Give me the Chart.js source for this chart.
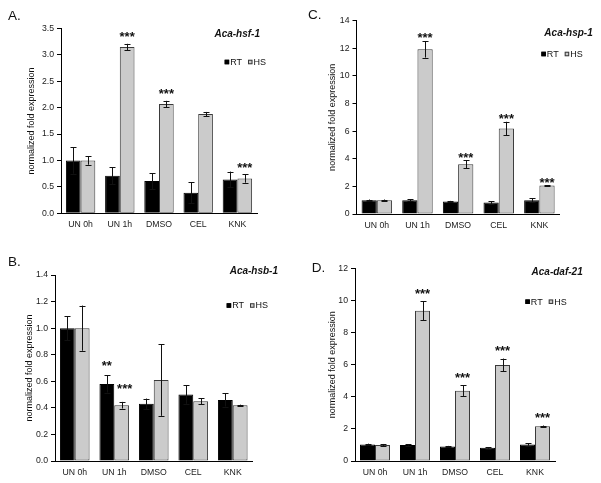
<!DOCTYPE html>
<html>
<head>
<meta charset="utf-8">
<script src="https://cdn.jsdelivr.net/npm/chart.js@4/dist/chart.umd.min.js"></script>
<style>
  html, body { margin: 0; padding: 0; background: #fff; }
  #wrap { position: relative; width: 601px; height: 483px; background: #fff; overflow: hidden; }
  canvas { position: absolute; }
</style>
</head>
<body>
<div id="wrap">
  <canvas id="pA" width="300" height="240" style="left:0px;top:0px"></canvas>
  <canvas id="pC" width="301" height="240" style="left:300px;top:0px"></canvas>
  <canvas id="pB" width="300" height="243" style="left:0px;top:240px"></canvas>
  <canvas id="pD" width="301" height="243" style="left:300px;top:240px"></canvas>
</div>
<script>
// ---- data ----
const categories = ['UN 0h', 'UN 1h', 'DMSO', 'CEL', 'KNK'];
const seriesNames = ['RT', 'HS'];
const yAxisTitle = 'normalized fold expression';

// A. Aca-hsf-1
const hsf1RT     = [1.00, 0.71, 0.61, 0.39, 0.64];
const hsf1RTErr  = [0.25, 0.16, 0.15, 0.20, 0.15];
const hsf1HS     = [1.00, 3.15, 2.07, 1.88, 0.66];
const hsf1HSErr  = [0.08, 0.06, 0.06, 0.04, 0.08];
const hsf1RTStars = ['', '', '', '', ''];
const hsf1HSStars = ['', '***', '***', '', '***'];
const hsf1Ticks = ['0.0', '0.5', '1.0', '1.5', '2.0', '2.5', '3.0', '3.5'];

// B. Aca-hsb-1
const hsb1RT     = [1.00, 0.58, 0.43, 0.50, 0.46];
const hsb1RTErr  = [0.09, 0.065, 0.04, 0.07, 0.05];
const hsb1HS     = [1.00, 0.42, 0.61, 0.45, 0.42];
const hsb1HSErr  = [0.17, 0.025, 0.27, 0.022, 0.004];
const hsb1RTStars = ['', '**', '', '', ''];
const hsb1HSStars = ['', '***', '', '', ''];
const hsb1Ticks = ['0.0', '0.2', '0.4', '0.6', '0.8', '1.0', '1.2', '1.4'];

// C. Aca-hsp-1
const hsp1RT     = [1.00, 1.00, 0.90, 0.83, 1.00];
const hsp1RTErr  = [0.05, 0.06, 0.05, 0.10, 0.13];
const hsp1HS     = [0.99, 11.93, 3.60, 6.20, 2.06];
const hsp1HSErr  = [0.06, 0.60, 0.29, 0.48, 0.04];
const hsp1RTStars = ['', '', '', '', ''];
const hsp1HSStars = ['', '***', '***', '***', '***'];
const hsp1Ticks = ['0', '2', '4', '6', '8', '10', '12', '14'];

// D. Aca-daf-21
const daf21RT     = [1.03, 1.00, 0.90, 0.82, 1.02];
const daf21RTErr  = [0.05, 0.05, 0.04, 0.05, 0.07];
const daf21HS     = [1.00, 9.35, 4.38, 5.98, 2.17];
const daf21HSErr  = [0.06, 0.60, 0.33, 0.40, 0.04];
const daf21RTStars = ['', '', '', '', ''];
const daf21HSStars = ['', '***', '***', '***', '***'];
const daf21Ticks = ['0', '2', '4', '6', '8', '10', '12'];

// ---- rendering ----
const FONT = "'Liberation Sans', Arial, Helvetica, sans-serif";
Chart.defaults.font.family = FONT;
const RT_COLOR = '#000000';
const HS_COLOR = '#cbcbcb';
const HS_BORDER = '#3a3a3a';

const panelPlugin = {
  id: 'panelExtras',
  afterDatasetsDraw(chart) {
    const p = chart.options.plugins.panelExtras;
    const ctx = chart.ctx;
    const ys = chart.scales.y;
    ctx.save();
    // error bars
    chart.data.datasets.forEach((ds, di) => {
      const meta = chart.getDatasetMeta(di);
      meta.data.forEach((el, i) => {
        const v = ds.data[i], e = ds.errors[i];
        const yTop = ys.getPixelForValue(v + e);
        const yBot = ys.getPixelForValue(v - e);
        const x = Math.round(el.x) + 0.5;
        ctx.strokeStyle = '#111';
        ctx.lineWidth = 1;
        ctx.beginPath();
        ctx.moveTo(x, yTop); ctx.lineTo(x, yBot);
        ctx.moveTo(x - 3, Math.round(yTop) + 0.5); ctx.lineTo(x + 3, Math.round(yTop) + 0.5);
        ctx.moveTo(x - 3, Math.round(yBot) + 0.5); ctx.lineTo(x + 3, Math.round(yBot) + 0.5);
        ctx.stroke();
      });
    });
    // significance stars
    ctx.fillStyle = '#111';
    ctx.font = 'bold 13px ' + FONT;
    ctx.textAlign = 'center';
    ctx.textBaseline = 'alphabetic';
    chart.data.datasets.forEach((ds, di) => {
      const meta = chart.getDatasetMeta(di);
      meta.data.forEach((el, i) => {
        const s = ds.stars[i];
        if (!s) return;
        const yTop = ys.getPixelForValue(ds.data[i] + ds.errors[i]);
        const gap = Array.isArray(p.starGap) ? p.starGap[di] : p.starGap;
        const dx = p.starDx ? p.starDx[di] : 0;
        ctx.fillText(s, el.x + dx, yTop - gap + 7.5);
      });
    });
    ctx.restore();
  },
  afterDraw(chart) {
    const p = chart.options.plugins.panelExtras;
    const ctx = chart.ctx;
    ctx.save();
    // panel letter
    ctx.fillStyle = '#111';
    ctx.font = '13.5px ' + FONT;
    ctx.textAlign = 'left';
    ctx.textBaseline = 'middle';
    ctx.fillText(p.letter, p.letterX, p.letterY);
    // gene title
    ctx.font = 'italic bold 10px ' + FONT;
    ctx.textAlign = 'right';
    ctx.fillText(p.title, p.titleX, p.titleY);
    // legend (right aligned)
    ctx.font = '9px ' + FONT;
    const ds = chart.data.datasets;
    const sq = 4.5, gapT = 1, gapI = 6;
    let x = p.legendX;
    const y = p.legendY;
    const items = [];
    for (let i = ds.length - 1; i >= 0; i--) {
      const w = ctx.measureText(ds[i].label).width;
      x -= w;
      const tx = x;
      x -= gapT + sq;
      items.push({tx, sx: x, d: ds[i]});
      x -= gapI;
    }
    items.forEach(it => {
      ctx.fillStyle = it.d.backgroundColor;
      ctx.fillRect(it.sx, y - sq / 2, sq, sq);
      ctx.strokeStyle = it.d.borderColor;
      ctx.lineWidth = 1;
      ctx.strokeRect(it.sx + 0.5, y - sq / 2 + 0.5, sq - 1, sq - 1);
      ctx.fillStyle = '#111';
      ctx.textAlign = 'left';
      ctx.fillText(it.d.label, it.tx, y + 0.5);
    });
    ctx.restore();
  }
};

function makePanel(id, rt, rtErr, hs, hsErr, rtStars, hsStars, tickLabels, step, geo) {
  const decimals = (tickLabels[1].split('.')[1] || '').length;
  return new Chart(document.getElementById(id), {
    type: 'bar',
    data: {
      labels: categories,
      datasets: [
        { label: seriesNames[0], data: rt, errors: rtErr, stars: rtStars,
          backgroundColor: RT_COLOR, borderColor: RT_COLOR, borderWidth: 1,
          categoryPercentage: 0.75, barPercentage: 1 },
        { label: seriesNames[1], data: hs, errors: hsErr, stars: hsStars,
          backgroundColor: HS_COLOR, borderColor: HS_BORDER, borderWidth: 1,
          borderSkipped: false,
          categoryPercentage: 0.75, barPercentage: 1 }
      ]
    },
    options: {
      responsive: false,
      animation: false,
      devicePixelRatio: 1,
      layout: { padding: { left: geo.left, right: geo.right, top: geo.top, bottom: 0 } },
      plugins: {
        legend: { display: false },
        tooltip: { enabled: false },
        panelExtras: geo.extras
      },
      scales: {
        x: {
          grid: { display: false, drawTicks: false },
          border: { display: true, color: '#000', width: 1 },
          ticks: { color: '#1a1a1a', font: { size: 8.7 }, padding: 6, maxRotation: 0 },
          afterFit(s) { s.height = geo.xh; }
        },
        y: {
          min: 0,
          max: parseFloat(tickLabels[tickLabels.length - 1]),
          ticks: {
            stepSize: step, color: '#1a1a1a', font: { size: 8.7 }, padding: 3,
            callback: (v) => Number(v).toFixed(decimals)
          },
          grid: { drawOnChartArea: false, drawTicks: true, tickLength: 4, color: '#000' },
          border: { display: true, color: '#000', width: 1 },
          title: { display: true, text: yAxisTitle, color: '#111', font: { size: 9 }, padding: { top: 4, bottom: 4 } },
          afterFit(s) { s.width = geo.yw; }
        }
      }
    },
    plugins: [panelPlugin]
  });
}

makePanel('pA', hsf1RT, hsf1RTErr, hsf1HS, hsf1HSErr, hsf1RTStars, hsf1HSStars, hsf1Ticks, 0.5,
  { left: 22, yw: 39, right: 43, top: 28.5, xh: 26.7,
    extras: { letter: 'A.', letterX: 8, letterY: 16, title: 'Aca-hsf-1', titleX: 260, titleY: 34,
              legendX: 266, legendY: 62, starGap: 10 } });

makePanel('pB', hsb1RT, hsb1RTErr, hsb1HS, hsb1HSErr, hsb1RTStars, hsb1HSStars, hsb1Ticks, 0.2,
  { left: 20.5, yw: 34.5, right: 47.5, top: 35, xh: 22,
    extras: { letter: 'B.', letterX: 8, letterY: 22.5, title: 'Aca-hsb-1', titleX: 278, titleY: 31.7,
              legendX: 268, legendY: 65.5, starGap: [13, 16], starDx: [0, 3] } });

makePanel('pC', hsp1RT, hsp1RTErr, hsp1HS, hsp1HSErr, hsp1RTStars, hsp1HSStars, hsp1Ticks, 2,
  { left: 23.5, yw: 33, right: 41.3, top: 20.7, xh: 26,
    extras: { letter: 'C.', letterX: 8, letterY: 15, title: 'Aca-hsp-1', titleX: 292.7, titleY: 33.7,
              legendX: 282.7, legendY: 54, starGap: 6 } });

makePanel('pD', daf21RT, daf21RTErr, daf21HS, daf21HSErr, daf21RTStars, daf21HSStars, daf21Ticks, 2,
  { left: 22.8, yw: 32.2, right: 46, top: 28.3, xh: 22,
    extras: { letter: 'D.', letterX: 11.7, letterY: 28.3, title: 'Aca-daf-21', titleX: 282.7, titleY: 32.7,
              legendX: 266.7, legendY: 61.7, starGap: 11 } });
</script>
</body>
</html>
